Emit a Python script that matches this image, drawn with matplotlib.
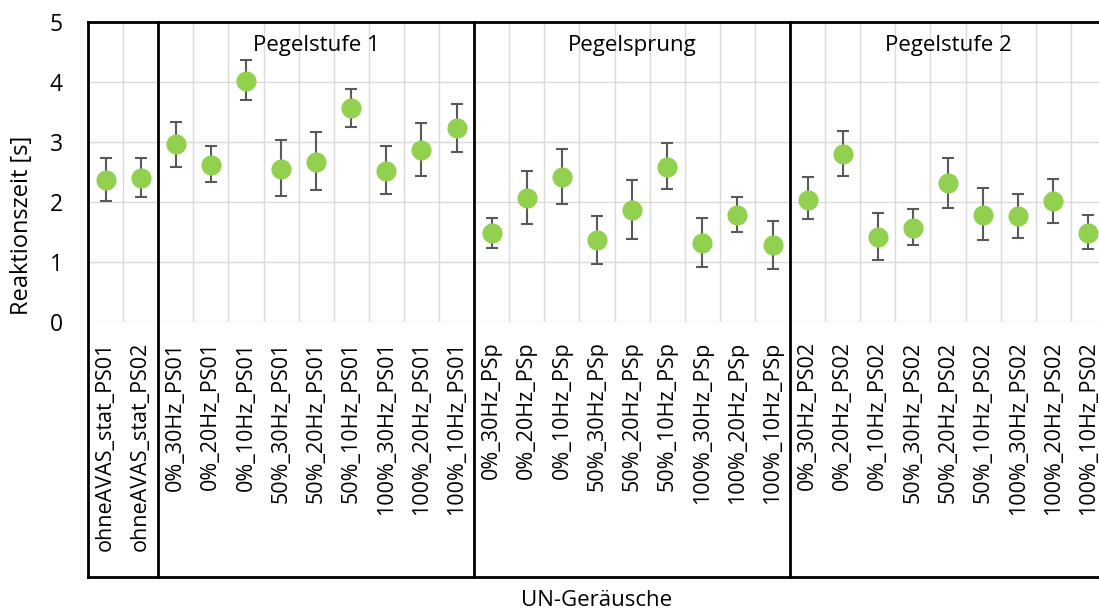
import matplotlib
matplotlib.use("Agg")
import matplotlib.pyplot as plt
import numpy as np

plt.rcParams['font.family'] = ['Open Sans', 'DejaVu Sans']

categories = [
    "ohneAVAS_stat_PS01", "ohneAVAS_stat_PS02",
    "0%_30Hz_PS01", "0%_20Hz_PS01", "0%_10Hz_PS01",
    "50%_30Hz_PS01", "50%_20Hz_PS01", "50%_10Hz_PS01",
    "100%_30Hz_PS01", "100%_20Hz_PS01", "100%_10Hz_PS01",
    "0%_30Hz_PSp", "0%_20Hz_PSp", "0%_10Hz_PSp",
    "50%_30Hz_PSp", "50%_20Hz_PSp", "50%_10Hz_PSp",
    "100%_30Hz_PSp", "100%_20Hz_PSp", "100%_10Hz_PSp",
    "0%_30Hz_PS02", "0%_20Hz_PS02", "0%_10Hz_PS02",
    "50%_30Hz_PS02", "50%_20Hz_PS02", "50%_10Hz_PS02",
    "100%_30Hz_PS02", "100%_20Hz_PS02", "100%_10Hz_PS02",
]
means = [2.37, 2.40,
         2.96, 2.61, 4.02, 2.55, 2.67, 3.56, 2.52, 2.87, 3.23,
         1.48, 2.06, 2.42, 1.36, 1.87, 2.59, 1.32, 1.79, 1.28,
         2.04, 2.80, 1.42, 1.57, 2.32, 1.79, 1.77, 2.01, 1.48]
upper = [2.74, 2.73,
         3.34, 2.93, 4.36, 3.03, 3.17, 3.88, 2.93, 3.31, 3.64,
         1.74, 2.51, 2.89, 1.77, 2.36, 2.98, 1.74, 2.08, 1.69,
         2.42, 3.18, 1.81, 1.88, 2.73, 2.23, 2.14, 2.38, 1.78]
lower = [2.01, 2.08,
         2.58, 2.33, 3.70, 2.10, 2.20, 3.25, 2.14, 2.44, 2.83,
         1.23, 1.64, 1.97, 0.96, 1.39, 2.21, 0.91, 1.50, 0.89,
         1.72, 2.44, 1.04, 1.28, 1.90, 1.37, 1.40, 1.65, 1.21]
group_names = ["", "Pegelstufe 1", "Pegelsprung", "Pegelstufe 2"]
group_sizes = [2, 9, 9, 9]
y_ticks = [0, 1, 2, 3, 4, 5]

W, H = 1099, 612
fig = plt.figure(figsize=(W / 100, H / 100), dpi=100)
ax_left, ax_right, ax_top, ax_bot = 88, 1106, 22, 322
ax = fig.add_axes([ax_left / W, 1 - ax_bot / H, (ax_right - ax_left) / W, (ax_bot - ax_top) / H])

x = np.arange(len(categories))
m = np.array(means)
err = np.vstack([m - np.array(lower), np.array(upper) - m])

ax.errorbar(x, m, yerr=err, fmt='none', ecolor='#595959', elinewidth=1.5,
            capsize=4, capthick=1.5, zorder=3)
ax.plot(x, m, 'o', color='#92D050', markersize=14.5, markeredgewidth=0, zorder=4)

ax.set_xlim(-0.5, len(categories) - 0.5)
ax.set_ylim(0, 5)
ax.set_yticks(y_ticks)
ax.set_xticks(x)
ax.set_xticklabels(categories, rotation=90, fontsize=15.5)
ax.tick_params(axis='y', length=0, pad=18, labelsize=16.5)
ax.tick_params(axis='x', length=0, pad=14)

# grid
ax.set_xticks(np.arange(-0.5, len(categories), 1), minor=True)
ax.tick_params(axis='x', which='minor', length=0)
ax.grid(True, which='minor', axis='x', color='#D9D9D9', linewidth=1)
ax.grid(True, which='major', axis='y', color='#D9D9D9', linewidth=1)
ax.grid(False, which='major', axis='x')
ax.set_axisbelow(True)
for s in ax.spines.values():
    s.set_visible(False)

# frame and separators
box_bottom = (ax_bot - 577) / (ax_bot - ax_top)
tr = ax.get_xaxis_transform()
ax.plot([0, 1], [1, 1], transform=ax.transAxes, color='black', lw=2, clip_on=False, zorder=5)
ax.plot([0, 1], [box_bottom, box_bottom], transform=ax.transAxes, color='black', lw=2, clip_on=False, zorder=5)
ax.plot([0, 0], [box_bottom, 1], transform=ax.transAxes, color='black', lw=2, clip_on=False, zorder=5)

start = 0
for name, size in zip(group_names, group_sizes):
    end = start + size
    if start > 0:
        ax.plot([start - 0.5, start - 0.5], [box_bottom, 1], transform=tr, color='black',
                lw=2, clip_on=False, zorder=5)
    if name:
        ax.text((start + end - 1) / 2, (ax_bot - 45) / (ax_bot - ax_top), name, transform=tr,
                ha='center', va='center', fontsize=16)
    start = end

fig.text(597 / W, 1 - 600 / H, "UN-Geräusche", ha='center', va='center', fontsize=16)
fig.text(22 / W, 1 - 225 / H, "Reaktionszeit [s]", ha='center', va='center', rotation=90, fontsize=17)

fig.savefig("out.png", dpi=100)
